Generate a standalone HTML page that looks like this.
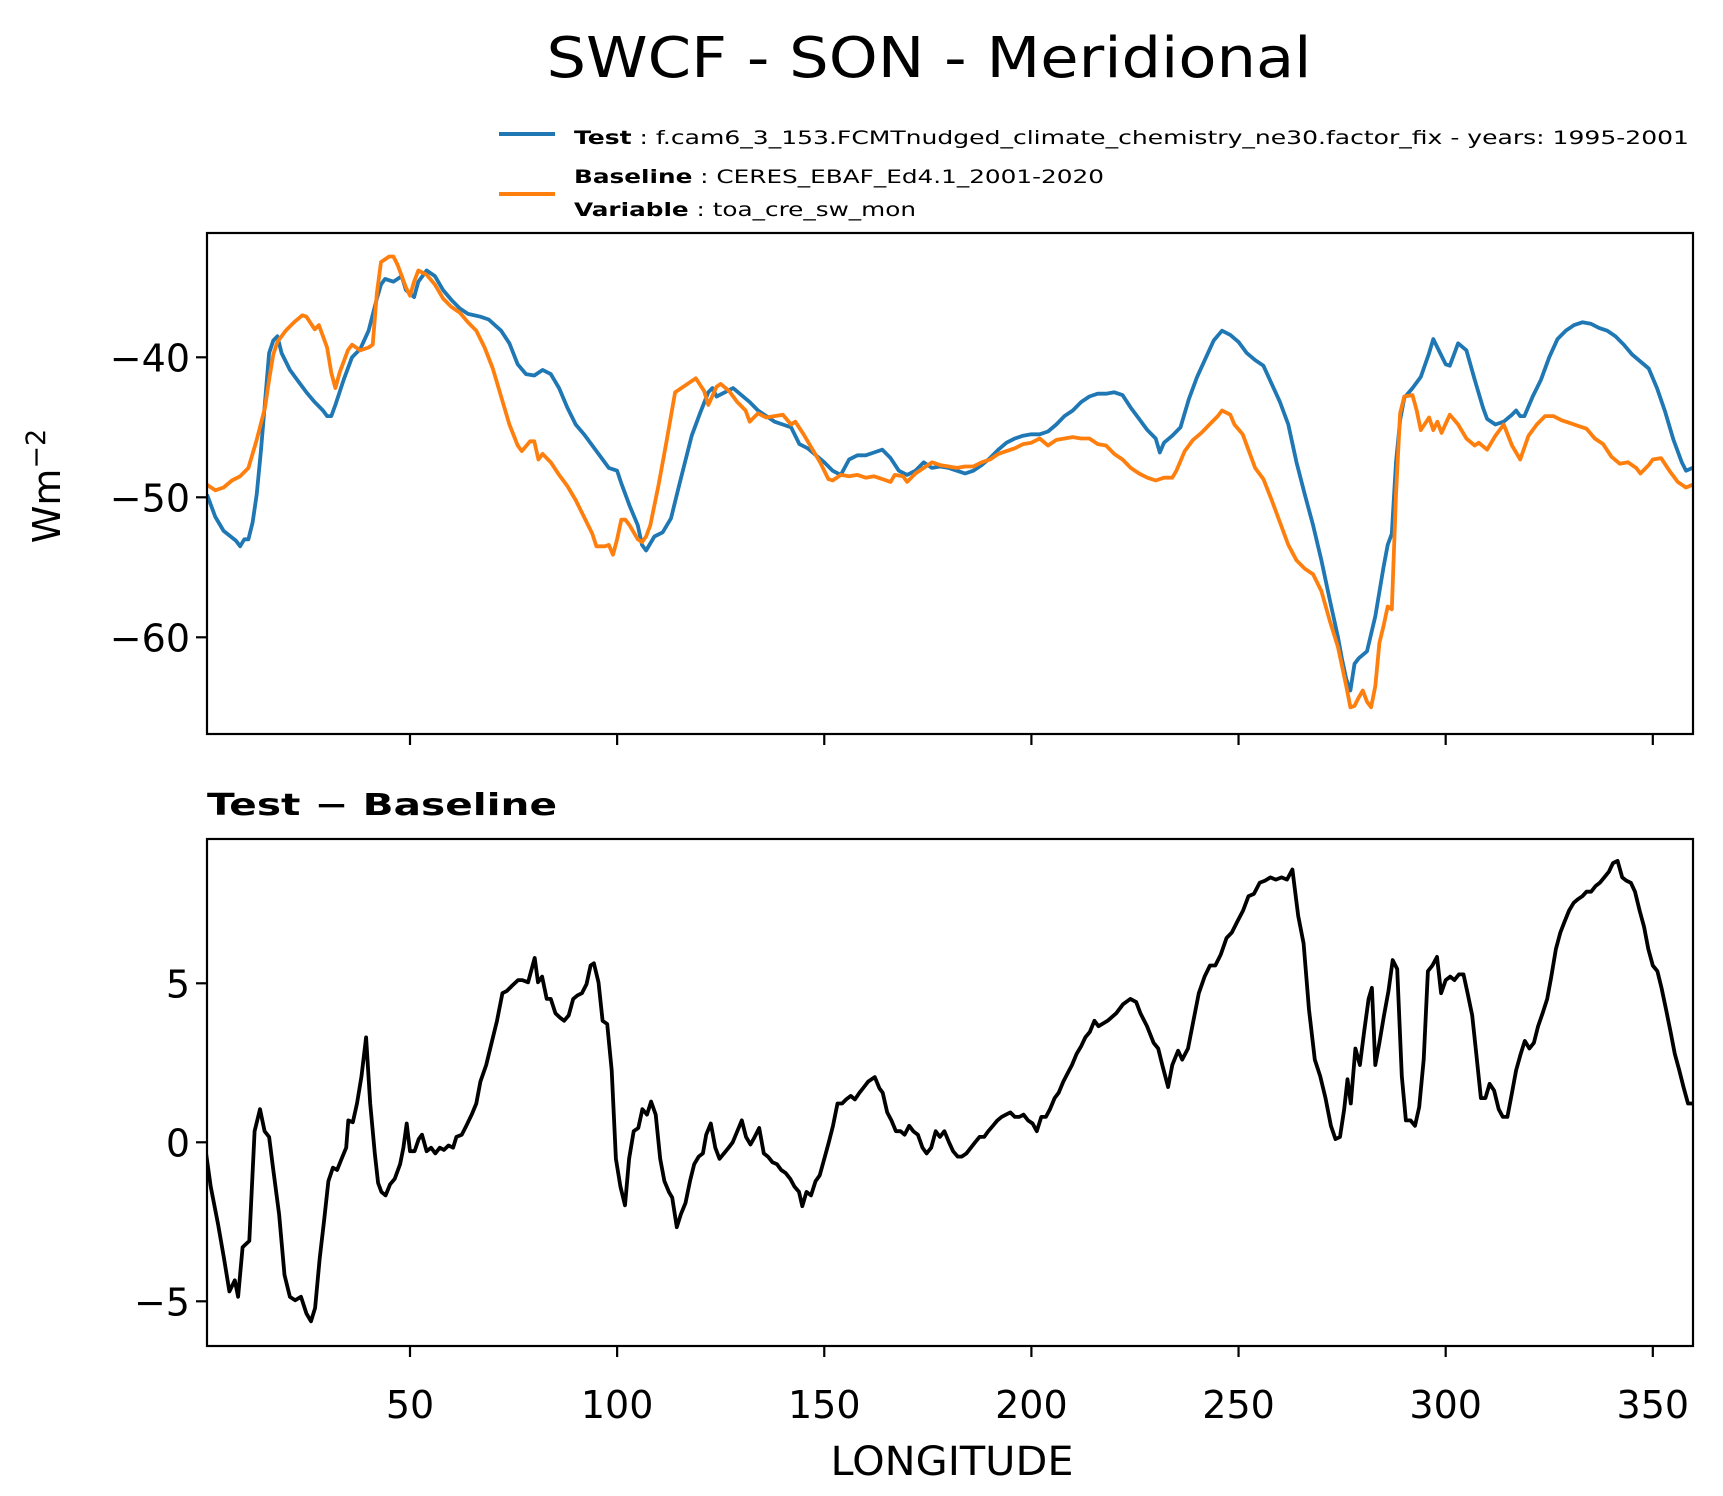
<!DOCTYPE html>
<html><head><meta charset="utf-8"><style>
html,body{margin:0;padding:0;background:#fff;}
svg{display:block;font-family:"DejaVu Sans","Liberation Sans",sans-serif;}
</style></head><body>
<svg id="fig" width="1723" height="1496" viewBox="0 0 1723 1496" xmlns="http://www.w3.org/2000/svg">
<rect width="1723" height="1496" fill="#fff"/>
<text x="929" y="77" font-size="56" text-anchor="middle" textLength="765" lengthAdjust="spacingAndGlyphs">SWCF - SON - Meridional</text>
<g>
<line x1="499" y1="134" x2="555" y2="134" stroke="#1f77b4" stroke-width="4"/>
<text x="574" y="144" font-size="19" textLength="1115" lengthAdjust="spacingAndGlyphs"><tspan font-weight="bold">Test</tspan> : f.cam6_3_153.FCMTnudged_climate_chemistry_ne30.factor_fix - years: 1995-2001</text>
<line x1="499" y1="194" x2="555" y2="194" stroke="#ff7f0e" stroke-width="4"/>
<text x="574" y="183" font-size="19" textLength="530" lengthAdjust="spacingAndGlyphs"><tspan font-weight="bold">Baseline</tspan> : CERES_EBAF_Ed4.1_2001-2020</text>
<text x="574" y="216" font-size="19" textLength="342" lengthAdjust="spacingAndGlyphs"><tspan font-weight="bold">Variable</tspan> : toa_cre_sw_mon</text>
</g>
<text transform="translate(60,486) rotate(-90)" font-size="38" text-anchor="middle">Wm<tspan dy="-15" font-size="27">−2</tspan></text>
<text x="207" y="815" font-size="30" font-weight="bold" textLength="350" lengthAdjust="spacingAndGlyphs">Test − Baseline</text>
<text x="952" y="1475" font-size="40" text-anchor="middle" textLength="243" lengthAdjust="spacingAndGlyphs">LONGITUDE</text>
<g id="plots"></g>
</svg>
<script>
const testLon=[1,3,5,8,9,10,11,12,13,14,15,16,17,18,19,21,23,25,27,29,30,31,32,34,36,38,40,42,43,44,46,47,48,49,51,52,54,56,58,60,62,64,67,69,72,74,76,78,80,82,84,86,88,90,92,94,96,98,100,101,103,105,106,107,109,111,113,115,118,120,122,123,124,126,128,130,132,134,136,138,140,142,144,146,148,150,152,154,156,158,160,162,164,166,168,170,172,174,176,178,180,182,184,186,188,190,192,194,196,198,200,202,204,206,208,210,212,214,216,218,220,222,224,226,228,230,231,232,234,236,238,240,242,244,246,248,250,252,254,256,258,260,262,264,266,268,270,272,274,275,276,277,278,279,281,283,285,286,287,288,289,290,292,294,296,297,298,300,301,302,303,305,307,309,310,312,314,316,317,318,319,321,323,325,327,329,331,333,335,337,339,341,343,345,347,349,351,353,355,357,358,359.6];
const testVal=[-49.8,-51.4,-52.4,-53.1,-53.5,-53,-53,-51.8,-49.8,-46.7,-43.2,-39.7,-38.8,-38.5,-39.7,-40.9,-41.7,-42.5,-43.2,-43.8,-44.2,-44.2,-43.4,-41.6,-40,-39.4,-38.1,-35.8,-34.8,-34.4,-34.6,-34.4,-34.2,-35.2,-35.7,-34.6,-33.8,-34.2,-35.2,-35.9,-36.5,-36.9,-37.1,-37.3,-38.1,-39,-40.5,-41.2,-41.3,-40.9,-41.2,-42.2,-43.6,-44.8,-45.5,-46.3,-47.1,-47.9,-48.1,-49,-50.6,-52,-53.4,-53.8,-52.8,-52.5,-51.5,-49.1,-45.6,-44,-42.5,-42.2,-42.8,-42.5,-42.2,-42.7,-43.2,-43.8,-44.2,-44.6,-44.8,-45,-46.2,-46.5,-47,-47.5,-48.1,-48.4,-47.3,-47,-47,-46.8,-46.6,-47.2,-48.1,-48.4,-48.1,-47.5,-47.9,-47.8,-47.9,-48.1,-48.3,-48.1,-47.7,-47.2,-46.6,-46.1,-45.8,-45.6,-45.5,-45.5,-45.3,-44.8,-44.2,-43.8,-43.2,-42.8,-42.6,-42.6,-42.5,-42.7,-43.6,-44.4,-45.2,-45.8,-46.8,-46.1,-45.6,-45,-43,-41.4,-40.1,-38.8,-38.1,-38.4,-38.9,-39.7,-40.2,-40.6,-41.9,-43.2,-44.8,-47.5,-49.8,-52,-54.5,-57.3,-60,-61.6,-63,-63.8,-61.9,-61.5,-61,-58.5,-55,-53.4,-52.6,-47.5,-44.5,-42.9,-42.2,-41.4,-39.7,-38.7,-39.3,-40.5,-40.6,-39.8,-39,-39.5,-41.6,-43.6,-44.4,-44.8,-44.6,-44.1,-43.8,-44.2,-44.2,-42.8,-41.6,-40,-38.7,-38.1,-37.7,-37.5,-37.6,-37.9,-38.1,-38.5,-39.1,-39.8,-40.3,-40.8,-42.2,-43.9,-45.9,-47.5,-48.1,-47.9];
const baseLon=[1,3,5,7,9,11,13,15,16,17,18,20,22,24,25,27,28,30,31,32,33,35,36,38,40,41,42,43,45,46,47,49,50,51,52,54,56,58,60,62,64,66,68,70,72,74,76,77,79,80,81,82,84,86,88,90,92,94,95,97,98,99,100,101,102,103,105,106,107,108,110,112,114,116,118,119,121,122,124,125,127,129,131,132,134,136,138,140,142,143,145,147,149,151,152,154,156,158,160,162,164,166,167,169,170,172,174,176,178,180,182,184,186,188,190,192,194,196,198,200,202,204,206,208,210,212,214,216,218,220,222,224,226,228,230,232,234,235,237,239,241,243,245,246,248,249,251,253,254,256,258,260,262,264,266,268,270,272,274,276,277,278,279,280,281,282,283,284,285,286,287,288,289,290,292,293,294,296,297,298,299,301,303,305,307,308,310,312,314,316,318,320,322,324,326,328,330,332,334,336,338,340,342,344,346,347,349,350,352,354,356,358,359.6];
const baseVal=[-49.1,-49.5,-49.3,-48.8,-48.5,-47.9,-45.9,-43.6,-41.6,-39.8,-38.9,-38.1,-37.5,-37,-37.1,-38,-37.7,-39.3,-41.1,-42.2,-41.1,-39.5,-39.1,-39.5,-39.3,-39.1,-35.4,-33.2,-32.8,-32.8,-33.4,-35,-35.6,-34.6,-33.8,-34.1,-34.8,-35.8,-36.4,-36.8,-37.5,-38.1,-39.3,-40.8,-42.8,-44.8,-46.3,-46.7,-46,-46,-47.3,-46.9,-47.5,-48.4,-49.2,-50.2,-51.4,-52.6,-53.5,-53.5,-53.4,-54.1,-53,-51.6,-51.6,-52,-53,-53.2,-52.8,-52,-49.1,-45.9,-42.5,-42.1,-41.7,-41.5,-42.4,-43.4,-42.1,-41.9,-42.4,-43.2,-43.8,-44.6,-44,-44.3,-44.2,-44.1,-44.8,-44.6,-45.5,-46.5,-47.5,-48.7,-48.8,-48.4,-48.5,-48.4,-48.6,-48.5,-48.7,-48.9,-48.4,-48.5,-48.9,-48.3,-47.9,-47.5,-47.7,-47.8,-47.9,-47.8,-47.8,-47.5,-47.3,-46.9,-46.7,-46.5,-46.2,-46.1,-45.8,-46.3,-45.9,-45.8,-45.7,-45.8,-45.8,-46.2,-46.3,-46.9,-47.3,-47.9,-48.3,-48.6,-48.8,-48.6,-48.6,-48.1,-46.7,-45.9,-45.4,-44.8,-44.2,-43.8,-44.1,-44.8,-45.5,-47.1,-47.9,-48.7,-50.2,-51.8,-53.4,-54.5,-55.1,-55.5,-56.7,-58.8,-60.7,-63.5,-65,-64.9,-64.3,-63.8,-64.6,-65,-63.5,-60.4,-59.2,-57.8,-58,-49.8,-44,-42.8,-42.7,-43.8,-45.2,-44.3,-45.2,-44.6,-45.4,-44.1,-44.8,-45.8,-46.3,-46.1,-46.6,-45.6,-44.8,-46.3,-47.3,-45.6,-44.8,-44.2,-44.2,-44.5,-44.7,-44.9,-45.1,-45.8,-46.2,-47.1,-47.6,-47.5,-47.9,-48.3,-47.7,-47.3,-47.2,-48.1,-48.9,-49.3,-49.1];
const diffLon=[0.6,1.9,3.7,5.1,6.4,7.7,8.5,9.6,11.2,12.5,13.8,14.9,16,17,18.4,19.7,21,22.3,23.7,25,26.1,27.1,28.2,29.3,30.3,31.4,32.4,33.5,34.6,35.1,36.2,37.2,38.3,39.4,40.4,41.5,42.3,43.1,44.1,45.2,46.3,47.6,48.4,49.2,50,51.1,52.1,52.9,54,55.1,56.1,57.2,58.2,59.3,60.4,61.2,62.5,63.6,64.9,66,67,68.4,69.7,71,72.3,73.4,74.7,76.1,77.1,78.5,80.1,80.9,81.9,83,84,85.1,86.2,87.2,88.3,89.4,90.4,91.5,92.6,93.6,94.4,95.5,96.5,97.6,98.7,99.7,100.8,101.9,102.9,104,105.1,106.1,107.2,108.2,109.3,110.4,111.4,112.5,113.3,114.4,115.4,116.5,117.6,118.6,119.7,120.7,121.5,122.6,123.7,124.7,125.8,126.9,127.9,129,130.1,131.1,132.2,133.2,134.3,135.4,136.4,137.5,138.6,139.6,140.7,141.8,142.8,143.9,144.7,145.7,146.8,147.9,148.9,150,151.1,152.1,153.2,154.3,155.3,156.4,157.4,158.5,159.6,160.6,162.2,163.3,164.1,165.2,166.2,167.3,168.4,169.4,170.5,171.5,172.6,173.7,174.7,175.8,176.9,177.9,179,180.1,181.1,182.2,183.2,184.3,185.4,186.4,187.5,188.6,189.6,190.7,191.8,192.8,193.9,194.9,196,197.1,198.1,199.2,200.3,201.3,202.4,203.5,204.5,205.6,206.6,207.7,208.8,209.8,210.9,212,213,214.1,215.2,216.2,218.4,220.5,222.1,223.9,225.3,226.3,227.9,229.5,230.6,231.6,233,234,235.4,236.4,237.8,239.1,240.4,241.8,243.1,244.4,245.7,247.1,248.4,249.7,251.1,252.4,253.7,255.1,256.4,257.7,259,260.4,261.7,263,264.4,265.7,267,268.4,269.7,271,272.3,273.4,274.5,275.5,276.3,277.1,278.2,279.3,280.3,281.4,282.2,283,284,285.1,286.2,287.2,288.3,289.4,290.4,291.5,292.6,293.6,294.7,295.7,296.8,297.9,298.9,300,301.1,302.1,303.2,304.3,305.3,306.4,307.4,308.5,309.6,310.6,311.7,312.8,313.8,314.9,316,317,318.1,319.1,320.2,321.3,322.3,323.4,324.5,325.5,326.6,327.7,328.7,329.8,330.9,331.9,333,334,335.1,336.2,337.2,338.3,339.4,340.4,341.5,342.6,343.6,344.7,345.7,346.8,347.9,348.9,350,351.1,352.1,353.2,354.3,355.3,356.4,357.4,358.5,359.6];
const diffVal=[-0.17,-1.39,-2.6,-3.65,-4.69,-4.34,-4.86,-3.3,-3.1,0.35,1.04,0.35,0.17,-0.87,-2.26,-4.17,-4.86,-4.97,-4.86,-5.38,-5.63,-5.21,-3.65,-2.43,-1.22,-0.8,-0.87,-0.52,-0.17,0.69,0.63,1.22,2.08,3.3,1.22,-0.35,-1.28,-1.56,-1.67,-1.32,-1.15,-0.69,-0.17,0.59,-0.28,-0.28,0.1,0.24,-0.28,-0.17,-0.35,-0.17,-0.24,-0.1,-0.17,0.17,0.24,0.52,0.87,1.22,1.91,2.43,3.13,3.82,4.69,4.76,4.93,5.1,5.1,5.03,5.8,5.03,5.21,4.51,4.51,4.06,3.92,3.82,3.99,4.51,4.62,4.69,4.97,5.56,5.63,5.03,3.82,3.72,2.26,-0.52,-1.39,-1.98,-0.52,0.35,0.45,1.04,0.87,1.28,0.87,-0.52,-1.22,-1.56,-1.74,-2.67,-2.26,-1.91,-1.22,-0.69,-0.45,-0.35,0.24,0.59,-0.17,-0.52,-0.35,-0.17,0,0.35,0.69,0.17,-0.07,0.17,0.45,-0.35,-0.45,-0.63,-0.69,-0.87,-0.97,-1.15,-1.39,-1.56,-2.01,-1.56,-1.67,-1.22,-1.04,-0.52,0,0.52,1.22,1.22,1.35,1.46,1.35,1.56,1.74,1.91,2.05,1.7,1.56,0.94,0.69,0.35,0.35,0.24,0.52,0.35,0.24,-0.17,-0.35,-0.17,0.35,0.17,0.35,0,-0.28,-0.45,-0.45,-0.35,-0.17,0,0.17,0.17,0.35,0.52,0.69,0.8,0.87,0.94,0.8,0.8,0.87,0.69,0.59,0.35,0.8,0.8,1.04,1.39,1.56,1.91,2.19,2.43,2.78,3.02,3.3,3.47,3.82,3.65,3.82,4.06,4.34,4.51,4.41,4.06,3.65,3.13,2.95,2.43,1.74,2.43,2.88,2.6,2.95,3.82,4.69,5.21,5.56,5.56,5.9,6.42,6.6,6.94,7.29,7.74,7.81,8.16,8.23,8.33,8.26,8.33,8.26,8.58,7.12,6.25,4.17,2.6,2.08,1.39,0.52,0.1,0.17,1.04,1.98,1.22,2.95,2.43,3.47,4.51,4.86,2.43,3.13,3.99,4.76,5.73,5.45,2.08,0.69,0.69,0.52,1.11,2.6,5.38,5.56,5.83,4.69,5.1,5.21,5.1,5.28,5.28,4.69,3.99,2.78,1.39,1.39,1.84,1.63,1.04,0.8,0.8,1.56,2.26,2.78,3.19,2.95,3.13,3.65,4.06,4.51,5.21,6.08,6.6,6.94,7.29,7.53,7.64,7.74,7.88,7.88,8.06,8.16,8.33,8.51,8.78,8.85,8.33,8.23,8.16,7.88,7.29,6.77,6.08,5.56,5.38,4.86,4.17,3.47,2.78,2.26,1.74,1.22,1.22];
const xTicks=[50,100,150,200,250,300,350];
const topTicks=[-40,-50,-60];
const botTicks=[5,0,-5];

const NS='http://www.w3.org/2000/svg';
const plots=document.getElementById('plots');
const X0=207,X1=1693,LON0=1,LON1=359.7;
function xs(l){return X0+(l-LON0)*(X1-X0)/(LON1-LON0);}
function ysTop(v){return 497.3-(v+50)*14;}
function ysBot(v){return 1142.3-v*31.8;}
function mk(tag,attrs,parent){const e=document.createElementNS(NS,tag);for(const k in attrs)e.setAttribute(k,attrs[k]);(parent||plots).appendChild(e);return e;}
const defs=mk('defs',{});
const c1=mk('clipPath',{id:'clipTop'},defs);mk('rect',{x:X0,y:233,width:X1-X0,height:501},c1);
const c2=mk('clipPath',{id:'clipBot'},defs);mk('rect',{x:X0,y:839,width:X1-X0,height:507},c2);
function line(lons,vals,ys,color,clip,name){
  let d='';for(let i=0;i<lons.length;i++){d+=(i?'L':'M')+xs(lons[i]).toFixed(1)+','+ys(vals[i]).toFixed(1);}
  const p=mk('path',{d:d,fill:'none',stroke:color,'stroke-width':3.8,'stroke-linejoin':'round','clip-path':'url(#'+clip+')'});
  
  
}
line(testLon,testVal,ysTop,'#1f77b4','clipTop','test-series-line');
line(baseLon,baseVal,ysTop,'#ff7f0e','clipTop','baseline-series-line');
line(diffLon,diffVal,ysBot,'#000','clipBot','difference-series-line');
function frame(y0,y1,name){
  const r=mk('rect',{x:X0,y:y0,width:X1-X0,height:y1-y0,fill:'none',stroke:'#000','stroke-width':2.2});
  
  
}
frame(233,734,'top-axes-frame');
frame(839,1346,'bottom-axes-frame');
xTicks.forEach(t=>{
  const x=xs(t);
  const a=mk('line',{x1:x,y1:734,x2:x,y2:745,stroke:'#000','stroke-width':2.2});
  
  
  const b=mk('line',{x1:x,y1:1346,x2:x,y2:1357,stroke:'#000','stroke-width':2.2});
  
  
  const tx=mk('text',{x:x,y:1418,'font-size':38,'text-anchor':'middle'});
  tx.textContent=String(t);
  
  
});
function yTicks(ticks,ys,name){
  ticks.forEach(t=>{
    const y=ys(t);
    const l=mk('line',{x1:X0-11,y1:y,x2:X0,y2:y,stroke:'#000','stroke-width':2.2});
    
    
    const tx=mk('text',{x:X0-17,y:y+14,'font-size':38,'text-anchor':'end'});
    tx.textContent=(t<0?'\u2212':'')+Math.abs(t);
    
    
  });
}
yTicks(topTicks,ysTop,'top-y');
yTicks(botTicks,ysBot,'bottom-y');
</script>
</body></html>
